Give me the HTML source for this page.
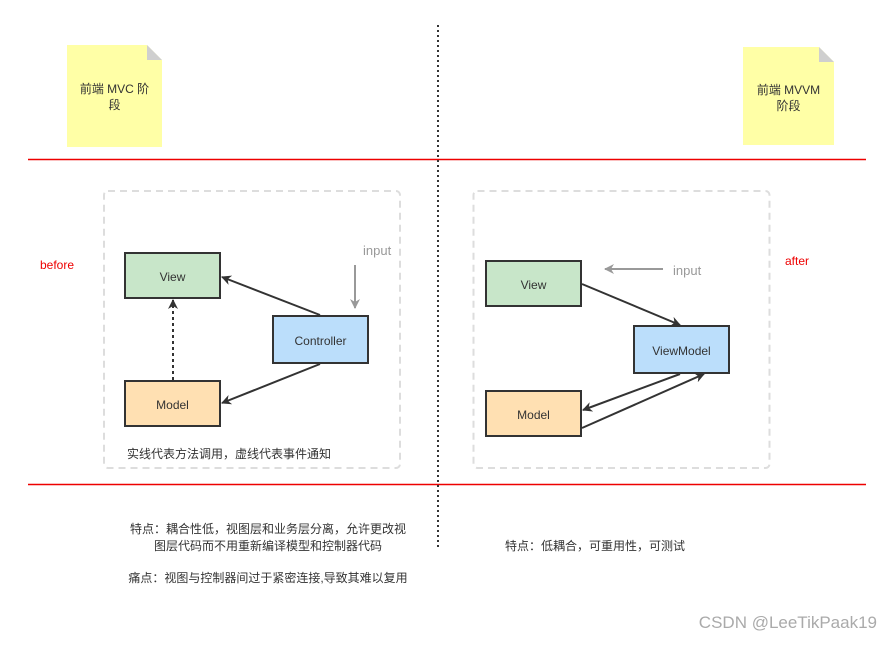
<!DOCTYPE html>
<html><head><meta charset="utf-8"><style>
html,body{margin:0;padding:0;background:#fff;}
svg text{font-family:"Liberation Sans","Noto Sans CJK SC",sans-serif;}
</style></head><body>
<svg width="892" height="640" viewBox="0 0 892 640" xmlns="http://www.w3.org/2000/svg">
<defs>
<marker id="a" markerWidth="10" markerHeight="10" refX="9" refY="5" orient="auto" markerUnits="userSpaceOnUse">
<path d="M0,0 L10,5 L0,10 L3,5 z" fill="#333"/></marker>
<marker id="g" markerWidth="10" markerHeight="10" refX="9" refY="5" orient="auto" markerUnits="userSpaceOnUse">
<path d="M0,0 L10,5 L0,10 L3,5 z" fill="#999"/></marker>
</defs>
<rect width="892" height="640" fill="#fff"/>
<!-- sticky notes -->
<path d="M67,45 H147 L162,60 V147 H67 Z" fill="#ffffa6"/>
<path d="M147,45 L162,60 H147 Z" fill="#cfcfcf"/>
<text x="114.5" y="93" font-size="12" fill="#333" text-anchor="middle">前端 MVC 阶</text>
<text x="114.5" y="109" font-size="12" fill="#333" text-anchor="middle">段</text>
<path d="M743,47 H819 L834,62 V145 H743 Z" fill="#ffffa6"/>
<path d="M819,47 L834,62 H819 Z" fill="#cfcfcf"/>
<text x="788.5" y="94" font-size="12" fill="#333" text-anchor="middle">前端 MVVM</text>
<text x="788.5" y="110" font-size="12" fill="#333" text-anchor="middle">阶段</text>
<!-- red lines -->
<line x1="28" y1="159.5" x2="866" y2="159.5" stroke="#e00" stroke-width="1.5"/>
<line x1="28" y1="484.5" x2="866" y2="484.5" stroke="#e00" stroke-width="1.5"/>
<!-- dotted vertical -->
<line x1="438" y1="25" x2="438" y2="548" stroke="#333" stroke-width="2" stroke-dasharray="2,3"/>
<!-- dashed containers -->
<rect x="104" y="191" width="296" height="277" rx="4" fill="none" stroke="#ddd" stroke-width="2" stroke-dasharray="7,5"/>
<rect x="473.5" y="191" width="296" height="277" rx="4" fill="none" stroke="#ddd" stroke-width="2" stroke-dasharray="7,5"/>
<text x="40" y="269" font-size="12" fill="#e00">before</text>
<text x="785" y="265" font-size="12" fill="#e00">after</text>
<!-- left diagram -->
<rect x="125" y="253" width="95" height="45" fill="#c8e6c9" stroke="#333" stroke-width="2"/>
<text x="172.5" y="281" font-size="12" fill="#333" text-anchor="middle">View</text>
<rect x="273" y="316" width="95" height="47" fill="#bbdefb" stroke="#333" stroke-width="2"/>
<text x="320.5" y="345" font-size="12" fill="#333" text-anchor="middle">Controller</text>
<rect x="125" y="381" width="95" height="45" fill="#ffe0b2" stroke="#333" stroke-width="2"/>
<text x="172.5" y="409" font-size="12" fill="#333" text-anchor="middle">Model</text>
<line x1="320" y1="315" x2="222" y2="277" stroke="#333" stroke-width="2" marker-end="url(#a)"/>
<line x1="320" y1="364" x2="222" y2="403" stroke="#333" stroke-width="2" marker-end="url(#a)"/>
<line x1="173" y1="380" x2="173" y2="300" stroke="#333" stroke-width="2" stroke-dasharray="3,3" marker-end="url(#a)"/>
<text x="363" y="255" font-size="13" fill="#999">input</text>
<line x1="355" y1="265" x2="355" y2="308" stroke="#999" stroke-width="2" marker-end="url(#g)"/>
<text x="127" y="458" font-size="12" fill="#333">实线代表方法调用，虚线代表事件通知</text>
<!-- right diagram -->
<rect x="486" y="261" width="95" height="45" fill="#c8e6c9" stroke="#333" stroke-width="2"/>
<text x="533.5" y="289" font-size="12" fill="#333" text-anchor="middle">View</text>
<rect x="634" y="326" width="95" height="47" fill="#bbdefb" stroke="#333" stroke-width="2"/>
<text x="681.5" y="355" font-size="12" fill="#333" text-anchor="middle">ViewModel</text>
<rect x="486" y="391" width="95" height="45" fill="#ffe0b2" stroke="#333" stroke-width="2"/>
<text x="533.5" y="419" font-size="12" fill="#333" text-anchor="middle">Model</text>
<line x1="582" y1="284" x2="680" y2="325" stroke="#333" stroke-width="2" marker-end="url(#a)"/>
<line x1="680" y1="374" x2="583" y2="410" stroke="#333" stroke-width="2" marker-end="url(#a)"/>
<line x1="582" y1="428" x2="704" y2="374" stroke="#333" stroke-width="2" marker-end="url(#a)"/>
<line x1="663" y1="269" x2="605" y2="269" stroke="#999" stroke-width="2" marker-end="url(#g)"/>
<text x="673" y="275" font-size="13" fill="#999">input</text>
<!-- bottom text -->
<text x="268" y="533" font-size="12" fill="#333" text-anchor="middle">特点：耦合性低，视图层和业务层分离，允许更改视</text>
<text x="268" y="550" font-size="12" fill="#333" text-anchor="middle">图层代码而不用重新编译模型和控制器代码</text>
<text x="268" y="582" font-size="12" fill="#333" text-anchor="middle">痛点：视图与控制器间过于紧密连接,导致其难以复用</text>
<text x="595" y="550" font-size="12" fill="#333" text-anchor="middle">特点：低耦合，可重用性，可测试</text>
<text x="877" y="628" font-size="17" fill="#aaa" text-anchor="end">CSDN @LeeTikPaak19</text>
</svg>
</body></html>
